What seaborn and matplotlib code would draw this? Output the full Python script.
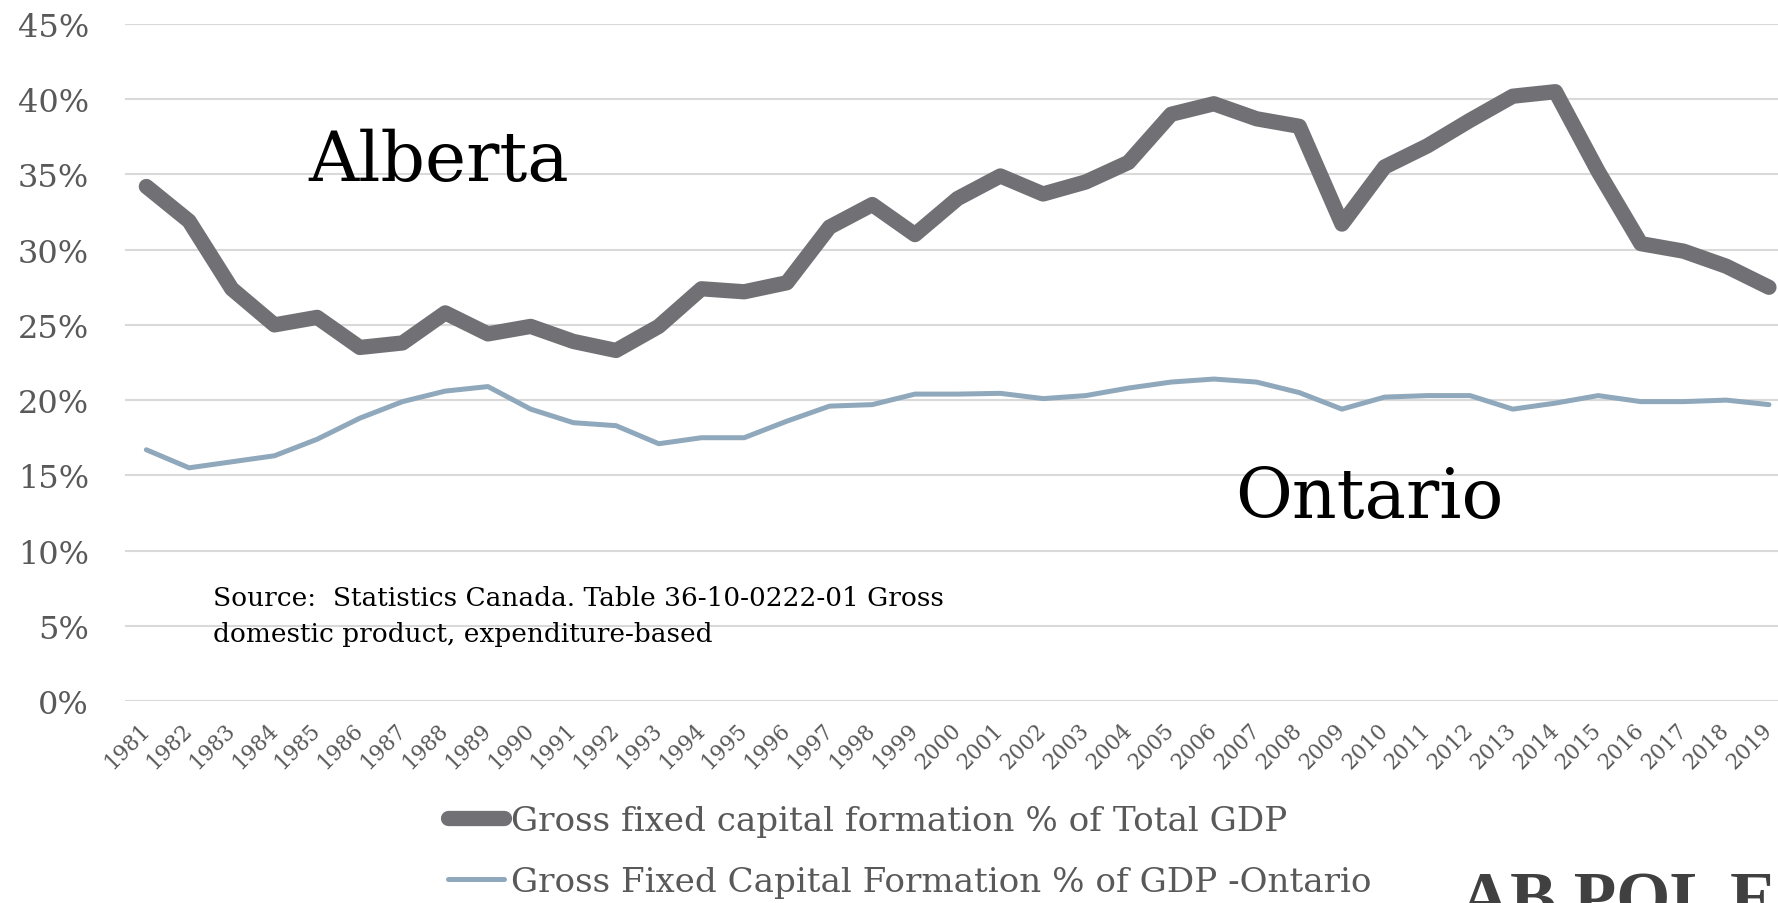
import pandas as pd
import seaborn as sns
import numpy as np
import matplotlib.pyplot as plt
from matplotlib.lines import Line2D
import matplotlib.transforms as mtransforms

# Gross fixed capital formation as % of GDP, Alberta vs Ontario
years = list(range(1981, 2020))
alberta = [34.2, 31.9, 27.4, 25.0, 25.5, 23.5, 23.8, 25.8, 24.4, 24.9,
           23.9, 23.3, 24.9, 27.4, 27.2, 27.8, 31.5, 33.0, 31.0, 33.4,
           34.9, 33.7, 34.5, 35.8, 39.0, 39.7, 38.7, 38.2, 31.7, 35.5,
           36.9, 38.6, 40.2, 40.5, 35.2, 30.4, 29.9, 28.9, 27.5]
ontario = [16.7, 15.5, 15.9, 16.3, 17.4, 18.8, 19.9, 20.6, 20.9, 19.4,
           18.5, 18.3, 17.1, 17.5, 17.5, 18.6, 19.6, 19.7, 20.4, 20.4,
           20.45, 20.1, 20.3, 20.8, 21.2, 21.4, 21.2, 20.5, 19.4, 20.2,
           20.3, 20.3, 19.4, 19.8, 20.3, 19.9, 19.9, 20.0, 19.7]
ytick_vals = [0, 5, 10, 15, 20, 25, 30, 35, 40, 45]
ytick_labels = [f"{v}%" for v in ytick_vals]
label_ab = "Gross fixed capital formation % of Total GDP"
label_on = "Gross Fixed Capital Formation % of GDP -Ontario"
source = "Source:  Statistics Canada. Table 36-10-0222-01 Gross\ndomestic product, expenditure-based"

ab_color = "#717075"
on_color = "#8fa8bb"
tick_color = "#595959"

sns.set_theme(style="white")
plt.rcParams['font.family'] = ['DejaVu Serif']

df = pd.DataFrame({'year': years, 'Alberta': alberta, 'Ontario': ontario})

fig = plt.figure(figsize=(17.78, 9.04), dpi=100)
W, H = 1778, 904
# plot area runs past the right edge, like the cropped original
ax = fig.add_axes([125 / W, (H - 702) / H, 39 * 42.7 / W, (702 - 25) / H])

ax.set_axisbelow(True)
ax.grid(axis='y', color='#d9d9d9', linewidth=1.5)
ax.grid(axis='x', visible=False)

sns.lineplot(data=df, x='year', y='Alberta', ax=ax, color=ab_color, linewidth=11,
             solid_capstyle='round', solid_joinstyle='round')
sns.lineplot(data=df, x='year', y='Ontario', ax=ax, color=on_color, linewidth=3.6,
             solid_joinstyle='round')

ax.set_xlim(1980.5, 2019.5)
ax.set_ylim(0, 45)
ax.set_yticks(ytick_vals)
ax.set_yticklabels(ytick_labels, fontsize=23, color=tick_color)
ax.set_xticks(years)
ax.set_xticklabels([str(y) for y in years], fontsize=15.5, color=tick_color,
                   rotation=45, ha='right', va='center', rotation_mode='anchor')
offset = mtransforms.ScaledTranslation(12 / 100, 0, fig.dpi_scale_trans)
for lab in ax.get_xticklabels():
    lab.set_transform(lab.get_transform() + offset)
ax.tick_params(axis='y', length=0, pad=26)
ax.tick_params(axis='x', length=0, pad=18)
ax.set_xlabel('')
ax.set_ylabel('')
sns.despine(ax=ax, left=True, bottom=True)

ax.text(1984.8, 34.6, "Alberta", fontsize=50, color='black', va='baseline')
ax.text(2006.5, 12.2, "Ontario", fontsize=50, color='black', va='baseline')
ax.text(1982.56, 7.7, source, fontsize=19, color='black', va='top', linespacing=1.55)

# legend below the chart, one row per series
h_ab = Line2D([0], [0], color=ab_color, linewidth=11, solid_capstyle='round')
h_on = Line2D([0], [0], color=on_color, linewidth=3.6, solid_capstyle='round')
for h, lab, yc in [(h_ab, label_ab, 822), (h_on, label_on, 883)]:
    fig.legend([h], [lab], loc='center left', bbox_to_anchor=(448 / W, (H - yc) / H),
               frameon=False, fontsize=24.6, labelcolor=tick_color, handlelength=1.64,
               handletextpad=0.2, borderpad=0, borderaxespad=0)

# logo text, cut off at the figure edge as in the original
fig.text(1460 / W, (H - 872) / H, "AB POL E", fontsize=50, fontweight='bold',
         color='#404040', va='top', ha='left', family='Liberation Serif')

fig.savefig('out.png', dpi=100)
